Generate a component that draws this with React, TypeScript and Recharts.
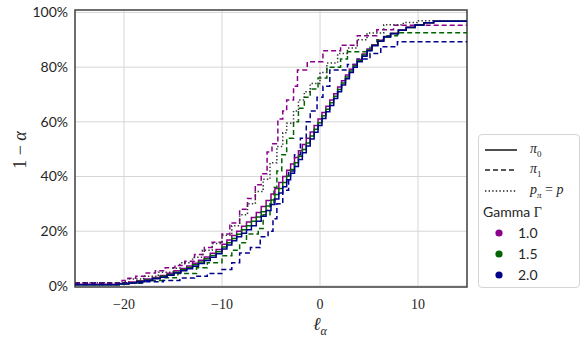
import React from 'react'
import {
  LineChart, Line, XAxis, YAxis, CartesianGrid, ReferenceArea,
} from 'recharts'

type Pt = [number, number]

// x tick values and y tick values
const xTicks = [-20, -10, 0, 10]
const yTicks = [0, 0.2, 0.4, 0.6, 0.8, 1.0]

// pi_0 (solid), one per Gamma
const solidG10: Pt[] = [
  [-25, 0.006], [-20.5, 0.009], [-19.5, 0.014], [-18.7, 0.019], [-17.9, 0.025], [-17.1, 0.031],
  [-16.3, 0.038], [-15.6, 0.046], [-14.9, 0.055], [-14.2, 0.064], [-13.6, 0.073], [-13.0, 0.083],
  [-12.4, 0.094], [-11.8, 0.106], [-11.2, 0.119], [-10.6, 0.133], [-10.0, 0.152], [-9.5, 0.168],
  [-9.0, 0.184], [-8.5, 0.2], [-8.0, 0.218], [-7.5, 0.234], [-7.0, 0.25], [-6.5, 0.268],
  [-6.0, 0.29], [-5.5, 0.312], [-5.0, 0.336], [-4.6, 0.356], [-4.2, 0.378], [-3.8, 0.4],
  [-3.4, 0.423], [-3.0, 0.446], [-2.6, 0.47], [-2.2, 0.494], [-1.8, 0.517], [-1.4, 0.54],
  [-1.0, 0.563], [-0.6, 0.587], [-0.2, 0.61], [0.2, 0.634], [0.6, 0.657], [1.0, 0.68],
  [1.4, 0.703], [1.8, 0.727], [2.2, 0.75], [2.6, 0.771], [3.0, 0.792], [3.4, 0.81],
  [3.8, 0.828], [4.3, 0.848], [4.8, 0.866], [5.3, 0.882], [5.9, 0.898], [6.5, 0.912],
  [7.2, 0.924], [8.0, 0.936], [8.8, 0.946], [9.7, 0.955], [10.6, 0.962], [11.6, 0.968], [15, 0.97],
]
const solidG15: Pt[] = [
  [-25, 0.004], [-20.5, 0.008], [-19.5, 0.012], [-18.7, 0.017], [-17.9, 0.022], [-17.1, 0.028],
  [-16.3, 0.035], [-15.6, 0.042], [-14.9, 0.05], [-14.2, 0.059], [-13.6, 0.067], [-13.0, 0.077],
  [-12.4, 0.087], [-11.8, 0.099], [-11.2, 0.111], [-10.6, 0.125], [-10.0, 0.142], [-9.5, 0.158],
  [-9.0, 0.173], [-8.5, 0.189], [-8.0, 0.205], [-7.5, 0.22], [-7.0, 0.236], [-6.5, 0.252],
  [-6.0, 0.271], [-5.5, 0.292], [-5.0, 0.314], [-4.6, 0.334], [-4.2, 0.356], [-3.8, 0.378],
  [-3.4, 0.402], [-3.0, 0.426], [-2.6, 0.45], [-2.2, 0.474], [-1.8, 0.499], [-1.4, 0.523],
  [-1.0, 0.548], [-0.6, 0.573], [-0.2, 0.597], [0.2, 0.622], [0.6, 0.646], [1.0, 0.67],
  [1.4, 0.694], [1.8, 0.718], [2.2, 0.742], [2.6, 0.764], [3.0, 0.786], [3.4, 0.805],
  [3.8, 0.824], [4.3, 0.844], [4.8, 0.863], [5.3, 0.88], [5.9, 0.896], [6.5, 0.911],
  [7.2, 0.923], [8.0, 0.935], [8.8, 0.945], [9.7, 0.954], [10.6, 0.962], [11.6, 0.968], [15, 0.97],
]
const solidG20: Pt[] = [
  [-25, 0.004], [-20.5, 0.007], [-19.5, 0.011], [-18.7, 0.015], [-17.9, 0.02], [-17.1, 0.026],
  [-16.3, 0.032], [-15.6, 0.039], [-14.9, 0.047], [-14.2, 0.055], [-13.6, 0.063], [-13.0, 0.072],
  [-12.4, 0.082], [-11.8, 0.093], [-11.2, 0.105], [-10.6, 0.118], [-10.0, 0.135], [-9.5, 0.15],
  [-9.0, 0.165], [-8.5, 0.18], [-8.0, 0.193], [-7.5, 0.205], [-7.0, 0.22], [-6.5, 0.236],
  [-6.0, 0.255], [-5.5, 0.276], [-5.0, 0.298], [-4.6, 0.318], [-4.2, 0.34], [-3.8, 0.363],
  [-3.4, 0.388], [-3.0, 0.412], [-2.6, 0.437], [-2.2, 0.462], [-1.8, 0.487], [-1.4, 0.512],
  [-1.0, 0.537], [-0.6, 0.562], [-0.2, 0.587], [0.2, 0.612], [0.6, 0.637], [1.0, 0.66],
  [1.4, 0.685], [1.8, 0.71], [2.2, 0.735], [2.6, 0.758], [3.0, 0.78], [3.4, 0.8],
  [3.8, 0.82], [4.3, 0.84], [4.8, 0.86], [5.3, 0.878], [5.9, 0.895], [6.5, 0.91],
  [7.2, 0.922], [8.0, 0.935], [8.8, 0.945], [9.7, 0.954], [10.6, 0.962], [11.6, 0.968], [15, 0.971],
]

// pi_1 (dashed), one per Gamma
const dashG10: Pt[] = [
  [-25, 0.012], [-20.2, 0.02], [-19.6, 0.028], [-18.8, 0.035], [-17.9, 0.047], [-16.8, 0.055],
  [-15.8, 0.066], [-14.8, 0.075], [-13.8, 0.09], [-12.8, 0.115], [-11.8, 0.14], [-11, 0.16],
  [-10, 0.19], [-9.2, 0.23], [-8.2, 0.28], [-7.4, 0.32], [-6.6, 0.37], [-6.0, 0.41],
  [-5.4, 0.49], [-4.9, 0.52], [-4.3, 0.61], [-3.8, 0.64], [-3.4, 0.68], [-2.7, 0.73],
  [-2.3, 0.79], [-1.3, 0.82], [0.3, 0.86], [2.1, 0.88], [3.8, 0.915], [5.8, 0.937],
  [7.5, 0.953], [15, 0.953],
]
const dashG15: Pt[] = [
  [-25, 0.005], [-20, 0.01], [-18, 0.02], [-16, 0.03], [-14.5, 0.045], [-12.6, 0.066],
  [-11.5, 0.085], [-10, 0.11], [-9, 0.13], [-8.2, 0.158], [-7.5, 0.19], [-6.3, 0.21],
  [-5.8, 0.26], [-5.1, 0.3], [-4.7, 0.36], [-4.4, 0.42], [-3.9, 0.48], [-3.4, 0.54],
  [-2.7, 0.6], [-2.2, 0.65], [-1.6, 0.69], [-1.0, 0.72], [-0.2, 0.76], [0.7, 0.8],
  [2.1, 0.83], [2.8, 0.856], [4.6, 0.856], [5.1, 0.88], [5.8, 0.9], [6.5, 0.915],
  [7.9, 0.926], [15, 0.926],
]
const dashG20: Pt[] = [
  [-25, 0.01], [-20, 0.012], [-18, 0.015], [-16, 0.02], [-14.3, 0.029], [-12.8, 0.035],
  [-11.5, 0.045], [-10, 0.06], [-9, 0.085], [-8.2, 0.12], [-7.1, 0.14], [-6.1, 0.18],
  [-5.3, 0.2], [-4.8, 0.246], [-4.4, 0.3], [-3.8, 0.35], [-3.2, 0.42], [-2.6, 0.48],
  [-2.0, 0.54], [-1.4, 0.6], [-1.0, 0.64], [-0.3, 0.69], [0.3, 0.73], [1.0, 0.79],
  [2.8, 0.81], [3.8, 0.83], [5.1, 0.85], [6.2, 0.875], [7.9, 0.893], [15, 0.893],
]

// p_pi = p (dotted)
const dotted: Pt[] = [
  [-25, 0.012], [-20, 0.015], [-19.5, 0.025], [-18, 0.035], [-16.5, 0.05], [-15, 0.065],
  [-14.3, 0.085], [-13, 0.105], [-12, 0.13], [-11, 0.155], [-10, 0.185], [-9, 0.22],
  [-8.2, 0.26], [-7.4, 0.3], [-6.6, 0.345], [-5.8, 0.39], [-5.1, 0.45], [-4.4, 0.51],
  [-3.8, 0.56], [-3.4, 0.595], [-2.7, 0.64], [-2.2, 0.68], [-1.6, 0.71], [-1, 0.74],
  [0, 0.78], [0.7, 0.815], [1.8, 0.85], [2.8, 0.87], [3.8, 0.9], [4.8, 0.925],
  [6.5, 0.955], [8.5, 0.963], [9.9, 0.97], [15, 0.971],
]

const PURPLE = '#8b008b'
const GREEN = '#006400'
const NAVY = '#00008b'
const DOT = '#333333'

const toRows = (pts: Pt[]) => pts.map(([x, y]) => ({ x, y }))

const fmtX = (v: number) => (v < 0 ? `\u2212${Math.abs(v)}` : `${v}`)
const fmtY = (v: number) => `${Math.round(v * 100)}%`

const serif = '"Liberation Serif", "DejaVu Serif", serif'
const sans = 'Lato, "Noto Sans", sans-serif'

function LegendBox() {
  const row = (top: number): React.CSSProperties => ({
    position: 'absolute', left: 0, top, height: 21, width: '100%',
    display: 'flex', alignItems: 'center',
  })
  const line = (dash: string) => (
    <svg width={32} height={4} style={{ marginLeft: 6 }}>
      <line x1={0} y1={2} x2={32} y2={2} stroke="#222" strokeWidth={1.6} strokeDasharray={dash} />
    </svg>
  )
  const dot = (c: string) => (
    <svg width={10} height={10} style={{ marginLeft: 15 }}>
      <circle cx={5} cy={5} r={3.6} fill={c} />
    </svg>
  )
  return (
    <div style={{
      position: 'absolute', left: 478, top: 134, width: 100, height: 152,
      border: '1px solid #d5d5d5', borderRadius: 4, background: '#fff', fontSize: 14, color: '#262626',
    }}>
      <div style={row(4)}>{line('')}<span style={{ marginLeft: 13, fontFamily: serif, fontStyle: 'italic' }}>π<sub style={{ fontSize: 9, fontStyle: 'normal' }}>0</sub></span></div>
      <div style={row(24)}>{line('5 3')}<span style={{ marginLeft: 13, fontFamily: serif, fontStyle: 'italic' }}>π<sub style={{ fontSize: 9, fontStyle: 'normal' }}>1</sub></span></div>
      <div style={row(45)}>{line('1.4 2.2')}<span style={{ marginLeft: 13, fontFamily: serif }}><i>p</i><sub style={{ fontSize: 9 }}><i>π</i></sub> = <i>p</i></span></div>
      <div style={row(66)}><span style={{ marginLeft: 4, fontFamily: sans }}>Gamma <span style={{ fontFamily: serif }}>Γ</span></span></div>
      <div style={row(87)}>{dot(PURPLE)}<span style={{ marginLeft: 14, fontFamily: sans }}>1.0</span></div>
      <div style={row(108)}>{dot(GREEN)}<span style={{ marginLeft: 14, fontFamily: sans }}>1.5</span></div>
      <div style={row(129)}>{dot(NAVY)}<span style={{ marginLeft: 14, fontFamily: sans }}>2.0</span></div>
    </div>
  )
}

export default function App() {
  const series = [
    { key: 'dashG10', data: dashG10, color: PURPLE, dash: '5 3' },
    { key: 'dashG15', data: dashG15, color: GREEN, dash: '5 3' },
    { key: 'dashG20', data: dashG20, color: NAVY, dash: '5 3' },
    { key: 'dotted', data: dotted, color: DOT, dash: '1.4 2.2' },
    { key: 'solidG10', data: solidG10, color: PURPLE, dash: undefined },
    { key: 'solidG15', data: solidG15, color: GREEN, dash: undefined },
    { key: 'solidG20', data: solidG20, color: NAVY, dash: undefined },
  ]

  return (
    <div style={{ position: 'absolute', left: 0, top: 0, width: 581, height: 341, background: '#fff' }}>
      <LineChart width={581} height={341} margin={{ top: 10, right: 114, left: 0, bottom: 0 }}>
        <CartesianGrid stroke="#d6d6d6" strokeWidth={1} />
        <XAxis
          type="number" dataKey="x" domain={[-25, 15]} ticks={xTicks} allowDataOverflow
          height={54} tickSize={0} tickMargin={12} axisLine={false} tickLine={false}
          tickFormatter={fmtX}
          tick={{ fontFamily: serif, fontSize: 14, fill: '#262626' }}
        />
        <YAxis
          type="number" dataKey="y" domain={[-0.004, 1.009]} ticks={yTicks} allowDataOverflow
          width={75} tickSize={0} tickMargin={7} axisLine={false} tickLine={false}
          tickFormatter={fmtY}
          tick={{ fontFamily: sans, fontSize: 14, fill: '#262626' }}
        />
        {series.map((s) => (
          <Line
            key={s.key} data={toRows(s.data)} dataKey="y" type="stepAfter"
            stroke={s.color} strokeWidth={1.5} strokeDasharray={s.dash}
            dot={false} activeDot={false} isAnimationActive={false}
          />
        ))}
        <ReferenceArea x1={-25} x2={15} y1={-0.004} y2={1.009} fill="none" stroke="#444" strokeWidth={1.5} ifOverflow="visible" />
      </LineChart>
      <div style={{
        position: 'absolute', left: 8, top: 150, transform: 'translate(-50%, -50%) rotate(-90deg)',
        marginLeft: 12, fontFamily: serif, fontSize: 18, color: '#262626', whiteSpace: 'nowrap',
      }}>
        1 − <i>α</i>
      </div>
      <div style={{
        position: 'absolute', left: 313, top: 314, fontFamily: serif, fontSize: 18, color: '#262626',
      }}>
        <i>ℓ</i><sub style={{ fontSize: 12 }}><i>α</i></sub>
      </div>
      <LegendBox />
    </div>
  )
}
